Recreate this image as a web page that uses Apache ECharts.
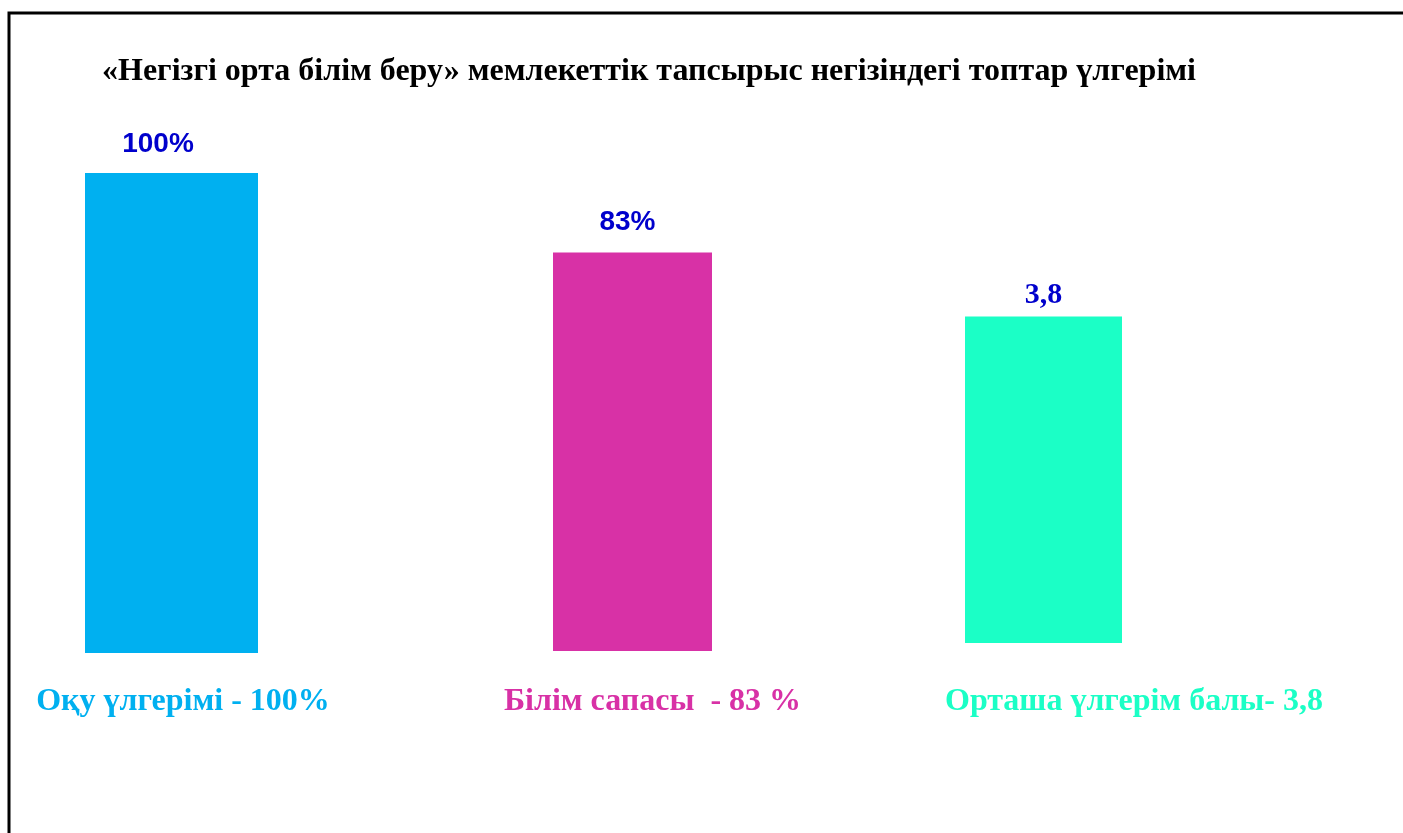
<!DOCTYPE html>
<html>
<head>
<meta charset="utf-8">
<title>Топтар үлгерімі</title>
<script src="https://cdn.jsdelivr.net/npm/echarts@6/dist/echarts.min.js"></script>
<style>
  html, body { margin: 0; padding: 0; background: #fff; }
  #chart { width: 1403px; height: 833px; }
</style>
</head>
<body>
<div id="chart"></div>
<script>
const titleText = '«Негізгі орта білім беру» мемлекеттік тапсырыс негізіндегі топтар үлгерімі';
const categories = ['Оқу үлгерімі - 100%', 'Білім сапасы  - 83 %', 'Орташа үлгерім балы- 3,8'];
// bar heights as drawn (0-100 scale), and the text shown above each bar
const barHeights = [100, 83, 68];
const valueLabels = ['100%', '83%', '3,8'];
const barColors = ['#00B0F0', '#D831A6', '#1BFFC6'];

// each bar sits in its own grid, the original has uneven widths and baselines
const grids = [
  { left: 85, width: 173, top: 173, bottom: 180 },
  { left: 553, width: 159, top: 171, bottom: 182 },
  { left: 965, width: 157, top: 163, bottom: 190 }
];
const labelShift = [11.5, 20, 90.5];
const labelMargin = [49, 51, 59];
const valueDistance = [15, 16, 6];
const valueShift = [-13.5, -5, 0];
const valueFont = [
  { fontFamily: '"Liberation Sans", Arial, sans-serif', fontSize: 28 },
  { fontFamily: '"Liberation Sans", Arial, sans-serif', fontSize: 28 },
  { fontFamily: '"Liberation Serif", "Times New Roman", serif', fontSize: 30 }
];

let xAxes = [], yAxes = [], series = [];
categories.forEach((cat, i) => {
  xAxes.push({
    type: 'category',
    gridIndex: i,
    data: [cat],
    axisLine: { show: false },
    axisTick: { show: false },
    axisLabel: {
      margin: labelMargin[i],
      verticalAlign: 'middle',
      padding: [0, 0, 0, labelShift[i] * 2],
      color: barColors[i],
      fontFamily: '"Liberation Serif", "Times New Roman", serif',
      fontWeight: 'bold',
      fontSize: 32
    }
  });
  yAxes.push({
    type: 'value',
    gridIndex: i,
    min: 0,
    max: 100,
    show: false,
    splitLine: { show: false }
  });
  series.push({
    type: 'bar',
    xAxisIndex: i,
    yAxisIndex: i,
    barWidth: '100%',
    data: [barHeights[i]],
    itemStyle: { color: barColors[i] },
    label: {
      show: true,
      position: 'top',
      distance: valueDistance[i],
      offset: [valueShift[i], 0],
      formatter: () => valueLabels[i],
      color: '#0000CC',
      fontWeight: 'bold',
      fontFamily: valueFont[i].fontFamily,
      fontSize: valueFont[i].fontSize
    }
  });
});

let myChart = echarts.init(document.getElementById('chart'));
myChart.setOption({
  backgroundColor: '#fff',
  animation: false,
  title: {
    text: titleText,
    left: 102,
    top: 56,
    padding: 0,
    textStyle: {
      color: '#000',
      fontFamily: '"Liberation Serif", "Times New Roman", serif',
      fontWeight: 'bold',
      fontSize: 32
    }
  },
  grid: grids.map(g => Object.assign({ outerBoundsMode: 'none' }, g)),
  xAxis: xAxes,
  yAxis: yAxes,
  series: series,
  graphic: [{
    type: 'polyline',
    silent: true,
    shape: { points: [[9, 840], [9, 13], [1410, 13]] },
    style: { stroke: '#000', lineWidth: 3, fill: null }
  }]
});
</script>
</body>
</html>
